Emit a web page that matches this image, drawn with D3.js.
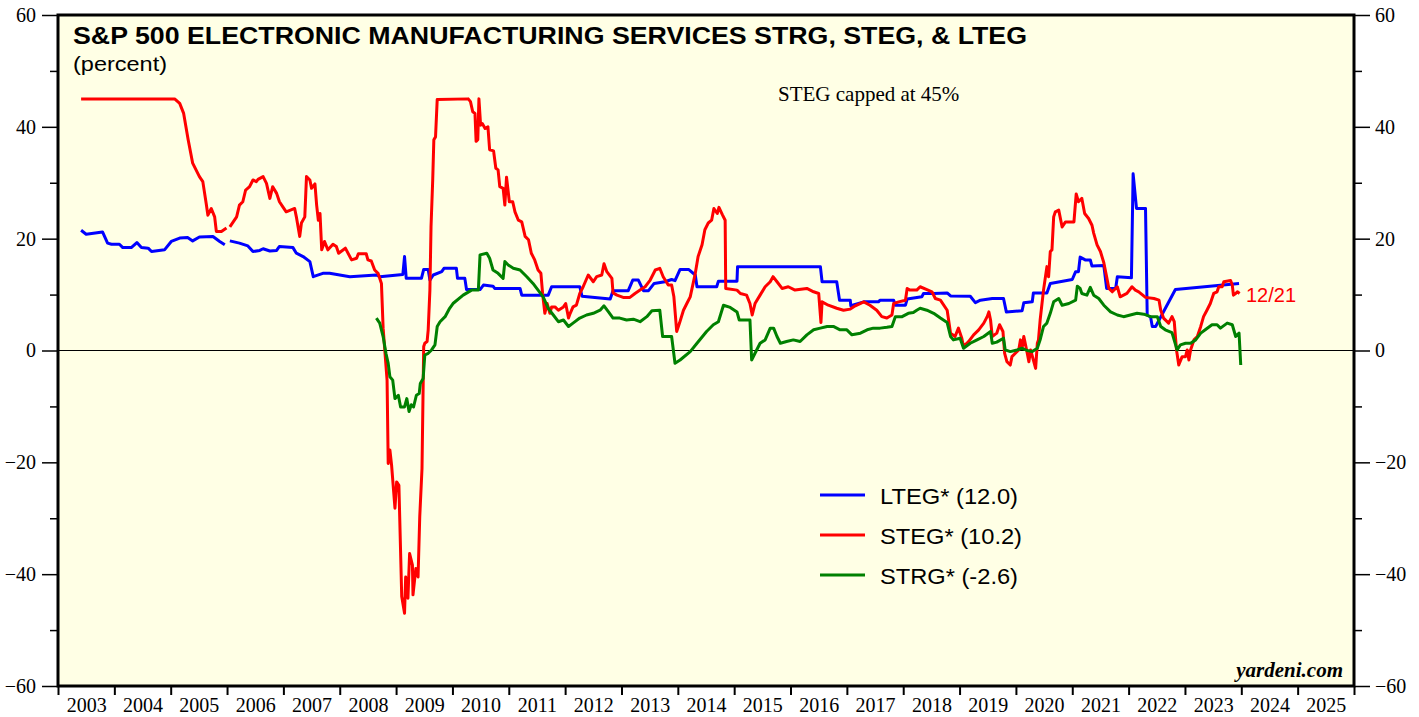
<!DOCTYPE html>
<html><head><meta charset="utf-8">
<script src="https://cdn.jsdelivr.net/npm/d3@7"></script>
<style>body{margin:0;background:#fff;overflow:hidden}</style>
</head><body><svg id="c" width="1419" height="717"></svg>
<script>
// ---- data ----
const yearLabels = d3.range(2003, 2026);
const yMajorTicks = [-60, -40, -20, 0, 20, 40, 60];
const yMinorTicks = [-50, -30, -10, 10, 30, 50];
const seriesNames = ["LTEG*", "STEG*", "STRG*"];
const seriesLast = ["12.0", "10.2", "-2.6"];
const seriesColors = ["#0000ff", "#ff0000", "#008000"];
const lastDate = "12/21";
const noteText = "STEG capped at 45%";

const lteg = [[2003.41,21.5],[2003.50,20.8],[2003.79,21.2],[2003.88,19.2],[2003.95,19.0],[2004.09,19.0],[2004.15,18.4],[2004.30,18.4],[2004.40,19.3],[2004.48,18.4],[2004.60,18.3],[2004.66,17.7],[2004.89,18.0],[2005.01,19.5],[2005.16,20.1],[2005.30,20.2],[2005.39,19.6],[2005.51,20.3],[2005.75,20.4],[2005.87,19.5],[2005.96,18.9],null,[2006.05,19.6],[2006.22,19.2],[2006.37,18.7],[2006.46,17.7],[2006.58,17.9],[2006.64,18.2],[2006.76,17.8],[2006.88,17.9],[2006.93,18.6],[2007.17,18.4],[2007.23,17.4],[2007.35,16.8],[2007.47,15.9],[2007.53,13.2],[2007.70,13.8],[2007.82,13.8],[2008.00,13.5],[2008.18,13.2],[2008.65,13.5],[2008.71,13.2],[2009.12,13.6],[2009.15,16.8],[2009.18,12.9],[2009.45,12.9],[2009.49,14.5],[2009.57,14.5],[2009.60,12.6],[2009.66,13.5],[2009.81,14.1],[2009.85,14.7],[2010.07,14.7],[2010.09,12.9],[2010.22,12.9],[2010.25,10.9],[2010.49,10.9],[2010.55,11.7],[2010.72,11.5],[2010.75,11.1],[2011.20,11.1],[2011.23,9.9],[2011.70,9.9],[2011.76,11.4],[2012.26,11.4],[2012.30,9.7],[2012.80,9.2],[2012.85,10.7],[2013.12,10.7],[2013.20,12.6],[2013.30,12.6],[2013.39,10.7],[2013.48,10.7],[2013.58,12.0],[2013.77,12.3],[2013.89,12.7],[2013.95,12.5],[2014.04,14.5],[2014.19,14.5],[2014.31,13.5],[2014.34,11.4],[2014.69,11.4],[2014.72,12.4],[2015.05,12.4],[2015.06,15.0],[2016.53,15.0],[2016.56,12.3],[2016.82,12.3],[2016.87,9.0],[2017.06,9.0],[2017.07,8.0],[2017.30,8.7],[2017.56,8.7],[2017.59,9.0],[2017.83,9.0],[2017.86,8.1],[2018.04,8.1],[2018.07,9.2],[2018.33,9.6],[2018.36,10.2],[2018.54,10.2],[2018.78,10.3],[2018.84,9.75],[2019.19,9.7],[2019.28,8.55],[2019.37,9.0],[2019.58,9.3],[2019.78,9.3],[2019.83,6.9],[2020.11,7.1],[2020.14,8.55],[2020.29,8.7],[2020.31,10.3],[2020.55,10.3],[2020.61,12.0],[2021.00,12.7],[2021.06,14.1],[2021.11,14.1],[2021.14,16.7],[2021.23,16.2],[2021.32,16.2],[2021.35,15.1],[2021.56,15.2],[2021.61,11.1],[2021.77,11.1],[2021.80,13.2],[2022.05,13.0],[2022.08,31.6],[2022.14,25.4],[2022.30,25.4],[2022.33,6.35],[2022.39,6.0],[2022.42,4.3],[2022.48,4.3],[2022.83,10.9],[2023.96,12.0]];

const steg = [[2003.41,45],[2005.07,45],[2005.16,44.2],[2005.23,42.4],[2005.31,37.7],[2005.39,33.5],[2005.51,31.1],[2005.57,30.2],[2005.63,26.3],[2005.66,24.2],[2005.72,25.4],[2005.78,23.9],[2005.81,21.3],[2005.90,21.3],[2005.99,21.9],null,[2006.05,22.1],[2006.11,23.0],[2006.17,23.9],[2006.22,26.0],[2006.28,26.6],[2006.33,28.7],[2006.40,29.3],[2006.46,30.5],[2006.52,30.2],[2006.55,30.6],[2006.64,31.1],[2006.70,29.9],[2006.76,27.2],[2006.81,29.3],[2006.88,28.1],[2006.93,26.6],[2006.99,25.7],[2007.05,24.8],[2007.20,25.4],[2007.23,23.9],[2007.29,20.4],[2007.32,22.8],[2007.38,23.9],[2007.41,31.1],[2007.47,30.5],[2007.50,29.0],[2007.56,29.8],[2007.59,26.0],[2007.62,23.3],[2007.65,24.5],[2007.68,18.0],[2007.73,19.5],[2007.79,18.0],[2007.88,19.0],[2007.94,18.6],[2007.98,17.4],[2008.10,18.3],[2008.21,16.2],[2008.30,16.5],[2008.33,17.3],[2008.47,17.3],[2008.50,16.2],[2008.56,16.0],[2008.62,14.4],[2008.68,13.8],[2008.74,12.0],[2008.77,4.0],[2008.84,-5.3],[2008.86,-20.2],[2008.89,-17.8],[2008.92,-20.5],[2008.98,-28.2],[2009.01,-23.5],[2009.05,-24.1],[2009.10,-44.0],[2009.15,-47.0],[2009.17,-40.5],[2009.21,-44.3],[2009.24,-36.3],[2009.29,-38.4],[2009.30,-43.7],[2009.35,-39.0],[2009.39,-40.5],[2009.42,-29.7],[2009.46,-21.1],[2009.49,0.7],[2009.51,1.3],[2009.55,1.6],[2009.57,3.7],[2009.60,10.8],[2009.62,22.1],[2009.65,30.5],[2009.67,37.7],[2009.70,38.2],[2009.73,44.9],[2010.28,45],[2010.32,44.5],[2010.36,42.7],[2010.40,42.4],[2010.42,37.4],[2010.45,37.7],[2010.47,45],[2010.50,40.3],[2010.53,40.6],[2010.58,39.7],[2010.63,40.0],[2010.66,35.9],[2010.73,35.7],[2010.77,32.6],[2010.81,32.3],[2010.84,29.3],[2010.90,29.0],[2010.93,26.0],[2010.96,31.0],[2011.01,26.6],[2011.07,26.6],[2011.11,24.8],[2011.17,23.3],[2011.23,23.0],[2011.29,20.4],[2011.35,19.8],[2011.40,17.4],[2011.46,16.2],[2011.52,14.4],[2011.57,13.8],[2011.60,10.2],[2011.64,6.65],[2011.68,8.4],[2011.73,6.65],[2011.76,7.8],[2011.82,7.8],[2011.88,7.2],[2011.97,7.8],[2012.01,8.4],[2012.06,5.8],[2012.09,6.65],[2012.14,7.8],[2012.20,8.1],[2012.26,10.2],[2012.32,11.4],[2012.41,13.5],[2012.50,12.3],[2012.56,13.2],[2012.65,13.5],[2012.69,15.5],[2012.74,14.1],[2012.83,12.9],[2012.85,10.3],[2012.92,9.9],[2013.03,9.5],[2013.15,9.5],[2013.24,10.2],[2013.33,10.8],[2013.42,11.4],[2013.51,12.6],[2013.60,14.4],[2013.68,14.7],[2013.74,13.2],[2013.83,11.7],[2013.89,11.7],[2013.93,9.6],[2013.98,3.4],[2014.03,4.9],[2014.10,7.2],[2014.16,8.4],[2014.22,9.6],[2014.31,13.8],[2014.36,16.8],[2014.43,18.9],[2014.48,21.6],[2014.54,22.8],[2014.60,23.3],[2014.64,25.4],[2014.70,24.5],[2014.73,25.6],[2014.79,24.3],[2014.84,23.3],[2014.85,11.1],[2015.05,10.8],[2015.11,10.2],[2015.22,9.9],[2015.28,8.4],[2015.32,6.35],[2015.37,8.4],[2015.46,9.9],[2015.55,11.4],[2015.64,12.3],[2015.69,13.2],[2015.76,12.3],[2015.85,11.1],[2015.96,11.4],[2016.08,10.8],[2016.29,11.1],[2016.41,10.5],[2016.50,10.2],[2016.54,5.0],[2016.56,8.7],[2016.67,8.1],[2016.82,7.55],[2016.94,7.2],[2017.06,7.4],[2017.15,8.0],[2017.30,8.7],[2017.41,8.1],[2017.53,7.2],[2017.62,6.05],[2017.71,5.8],[2017.80,6.35],[2017.83,8.4],[2017.92,8.7],[2018.04,9.0],[2018.07,11.1],[2018.12,10.8],[2018.24,10.8],[2018.30,11.4],[2018.42,10.9],[2018.51,10.5],[2018.57,9.3],[2018.66,9.0],[2018.78,7.2],[2018.84,3.1],[2018.92,2.5],[2018.98,4.0],[2019.04,2.2],[2019.07,0.7],[2019.16,1.6],[2019.25,2.8],[2019.34,3.7],[2019.43,4.9],[2019.49,6.05],[2019.52,6.9],[2019.55,5.45],[2019.58,2.5],[2019.66,3.1],[2019.71,4.6],[2019.77,3.4],[2019.80,-0.5],[2019.84,-2.0],[2019.90,-2.6],[2019.93,-1.1],[2019.99,-0.5],[2020.05,0.1],[2020.08,1.9],[2020.11,0.4],[2020.14,2.5],[2020.19,0.1],[2020.23,-2.0],[2020.26,0.1],[2020.31,-1.7],[2020.35,-3.2],[2020.38,1.3],[2020.40,1.9],[2020.43,5.45],[2020.49,10.8],[2020.55,15.0],[2020.58,13.2],[2020.61,17.7],[2020.64,18.0],[2020.67,23.9],[2020.70,24.8],[2020.76,25.1],[2020.82,22.1],[2020.88,23.0],[2021.03,23.0],[2021.07,28.0],[2021.11,26.6],[2021.17,27.2],[2021.22,24.5],[2021.29,23.6],[2021.35,22.4],[2021.38,21.0],[2021.44,18.9],[2021.50,17.7],[2021.56,15.7],[2021.61,13.2],[2021.65,11.1],[2021.71,10.5],[2021.80,11.4],[2021.85,9.6],[2021.97,10.2],[2022.06,11.4],[2022.12,10.8],[2022.18,10.5],[2022.30,9.5],[2022.45,9.3],[2022.54,9.0],[2022.57,7.2],[2022.62,5.8],[2022.71,4.9],[2022.77,6.05],[2022.81,5.15],[2022.85,0.1],[2022.89,-2.6],[2022.95,-1.1],[2023.01,-1.1],[2023.04,0.1],[2023.07,-1.7],[2023.10,0.1],[2023.16,1.9],[2023.22,2.5],[2023.28,4.3],[2023.33,6.05],[2023.39,7.2],[2023.45,8.4],[2023.51,10.2],[2023.57,10.5],[2023.60,11.4],[2023.66,11.4],[2023.69,12.3],[2023.81,12.5],[2023.84,11.7],[2023.86,9.9],[2023.90,10.2],[2023.93,10.5],[2023.97,10.2]];

const strg = [[2008.65,5.8],[2008.71,4.9],[2008.77,2.5],[2008.82,-0.5],[2008.86,-2.3],[2008.89,-4.7],[2008.94,-5.3],[2008.98,-8.6],[2009.04,-8.0],[2009.08,-10.1],[2009.15,-10.1],[2009.19,-8.6],[2009.23,-10.9],[2009.27,-9.7],[2009.31,-10.1],[2009.36,-8.0],[2009.41,-7.7],[2009.43,-5.9],[2009.48,-5.0],[2009.51,-0.8],[2009.57,-0.5],[2009.63,0.1],[2009.69,1.0],[2009.73,4.3],[2009.78,5.15],[2009.87,6.05],[2009.95,7.55],[2010.01,8.4],[2010.19,9.9],[2010.34,10.8],[2010.46,10.8],[2010.49,17.1],[2010.61,17.4],[2010.66,16.5],[2010.72,14.4],[2010.81,13.8],[2010.90,12.9],[2010.93,15.9],[2010.99,15.3],[2011.08,14.7],[2011.20,14.4],[2011.32,13.2],[2011.43,12.0],[2011.52,10.8],[2011.61,9.6],[2011.70,7.55],[2011.79,6.35],[2011.88,5.15],[2011.97,5.45],[2012.06,4.3],[2012.14,4.9],[2012.26,5.8],[2012.38,6.35],[2012.50,6.65],[2012.62,7.2],[2012.69,8.0],[2012.77,6.9],[2012.85,5.8],[2012.97,5.8],[2013.09,5.45],[2013.21,5.6],[2013.33,5.15],[2013.45,6.05],[2013.54,7.1],[2013.68,7.2],[2013.73,2.5],[2013.89,2.5],[2013.95,-2.3],[2014.04,-1.7],[2014.22,-0.2],[2014.34,1.3],[2014.51,3.4],[2014.63,4.6],[2014.72,5.15],[2014.81,8.1],[2014.93,7.7],[2015.05,6.9],[2015.09,5.45],[2015.28,5.45],[2015.31,-1.7],[2015.37,-0.5],[2015.46,1.3],[2015.55,1.9],[2015.64,4.0],[2015.70,4.0],[2015.76,2.5],[2015.82,1.3],[2015.93,1.6],[2016.05,1.9],[2016.17,1.6],[2016.29,2.8],[2016.41,3.7],[2016.53,4.0],[2016.65,4.3],[2016.76,4.3],[2016.88,3.7],[2017.00,3.7],[2017.09,2.8],[2017.24,3.1],[2017.36,3.7],[2017.47,4.0],[2017.59,4.0],[2017.71,4.15],[2017.80,4.3],[2017.86,6.05],[2017.98,6.05],[2018.09,6.65],[2018.18,6.8],[2018.24,7.2],[2018.30,7.55],[2018.42,7.2],[2018.54,6.65],[2018.66,5.8],[2018.78,5.0],[2018.84,2.5],[2018.89,1.9],[2019.01,2.2],[2019.07,0.4],[2019.19,1.3],[2019.31,1.9],[2019.43,2.5],[2019.55,3.4],[2019.58,1.3],[2019.66,1.5],[2019.78,2.2],[2019.81,0.1],[2019.90,-0.2],[2020.02,0.1],[2020.11,0.4],[2020.20,0.0],[2020.29,-0.2],[2020.38,0.4],[2020.43,1.9],[2020.49,4.3],[2020.55,4.9],[2020.61,6.65],[2020.67,8.7],[2020.76,9.3],[2020.82,8.1],[2020.94,8.4],[2021.06,9.0],[2021.09,11.5],[2021.14,11.1],[2021.17,10.2],[2021.26,9.9],[2021.32,11.3],[2021.38,9.9],[2021.47,9.3],[2021.56,8.1],[2021.68,6.9],[2021.80,6.35],[2021.91,6.05],[2022.03,6.35],[2022.15,6.65],[2022.27,6.5],[2022.39,6.05],[2022.51,6.05],[2022.57,4.3],[2022.65,3.7],[2022.77,3.2],[2022.86,0.1],[2022.92,1.0],[2023.01,1.3],[2023.10,1.3],[2023.19,1.9],[2023.28,3.1],[2023.36,3.7],[2023.48,4.6],[2023.57,4.6],[2023.63,4.0],[2023.75,4.9],[2023.84,4.6],[2023.90,2.5],[2023.96,3.1],[2023.99,-2.6]];

// ---- chart ----
const svg = d3.select("#c");
const L = 58, R = 1354, T = 15, B = 686;
const x = d3.scaleLinear().domain([2003, 2026]).range([L, R]);
const y = d3.scaleLinear().domain([-60, 60]).range([B, T]);
const serif = "'Liberation Serif','Times New Roman',serif";
const sans = "'Liberation Sans',Arial,sans-serif";

svg.append("rect").attr("x", L).attr("y", T).attr("width", R - L).attr("height", B - T)
  .attr("fill", "#ffffe5");

svg.append("line").attr("x1", L).attr("x2", R).attr("y1", y(0)).attr("y2", y(0))
  .attr("stroke", "#000").attr("stroke-width", 1);

const line = d3.line().defined(d => d !== null).x(d => x(d[0])).y(d => y(d[1]));
[lteg, steg, strg].forEach((s, i) => {
  svg.append("path").datum(s).attr("d", line).attr("fill", "none")
    .attr("stroke", seriesColors[i]).attr("stroke-width", 3)
    .attr("stroke-linejoin", "round");
});

// axes
function styleAxis(g, fs) {
  g.select(".domain").remove();
  g.selectAll("text").attr("font-family", serif).attr("font-size", fs).attr("fill", "#000");
}
const gl = svg.append("g").attr("transform", `translate(${L},0)`)
  .call(d3.axisLeft(y).tickValues(yMajorTicks).tickSize(16).tickPadding(6));
styleAxis(gl, 20); gl.selectAll("line").attr("stroke-width", 1.5);
const glm = svg.append("g").attr("transform", `translate(${L},0)`)
  .call(d3.axisLeft(y).tickValues(yMinorTicks).tickSize(8).tickFormat(""));
styleAxis(glm, 20); glm.selectAll("line").attr("stroke-width", 1.5);
const gr = svg.append("g").attr("transform", `translate(${R},0)`)
  .call(d3.axisRight(y).tickValues(yMajorTicks).tickSize(16).tickPadding(5));
styleAxis(gr, 20); gr.selectAll("line").attr("stroke-width", 1.5);
const grm = svg.append("g").attr("transform", `translate(${R},0)`)
  .call(d3.axisRight(y).tickValues(yMinorTicks).tickSize(8).tickFormat(""));
styleAxis(grm, 20); grm.selectAll("line").attr("stroke-width", 1.5);

const gb = svg.append("g").attr("transform", `translate(0,${B})`)
  .call(d3.axisBottom(x).tickValues(d3.range(2003, 2027)).tickSize(9).tickFormat(""));
styleAxis(gb, 20); gb.selectAll("line").attr("stroke-width", 2);
const gbl = svg.append("g").attr("transform", `translate(0,${B})`)
  .call(d3.axisBottom(x).tickValues(yearLabels.map(v => v + 0.5)).tickSize(0).tickPadding(12)
    .tickFormat(d => String(Math.floor(d))));
styleAxis(gbl, 20);

// border
svg.append("rect").attr("x", L).attr("y", T).attr("width", R - L).attr("height", B - T)
  .attr("fill", "none").attr("stroke", "#000").attr("stroke-width", 3);

// texts
svg.append("text").attr("x", 73).attr("y", 44).attr("font-family", sans).attr("font-weight", "bold")
  .attr("font-size", 24).attr("textLength", 954).attr("lengthAdjust", "spacingAndGlyphs")
  .text("S&P 500 ELECTRONIC MANUFACTURING SERVICES STRG, STEG, & LTEG");
svg.append("text").attr("x", 73).attr("y", 71).attr("font-family", sans).attr("font-size", 20)
  .attr("textLength", 94).attr("lengthAdjust", "spacingAndGlyphs").text("(percent)");
svg.append("text").attr("x", 778).attr("y", 101).attr("font-family", serif).attr("font-size", 21)
  .text(noteText);
svg.append("text").attr("x", 1343).attr("y", 677).attr("text-anchor", "end").attr("font-family", serif)
  .attr("font-weight", "bold").attr("font-style", "italic").attr("font-size", 21).text("yardeni.com");
svg.append("text").attr("x", 1246).attr("y", 302).attr("font-family", sans).attr("font-size", 20)
  .attr("fill", "#ff0000").text(lastDate);

// legend
const legendLen = [138, 142, 138];
const lg = svg.append("g");
seriesNames.forEach((n, i) => {
  const yy = 495 + i * 40;
  lg.append("line").attr("x1", 820).attr("x2", 865).attr("y1", yy).attr("y2", yy)
    .attr("stroke", seriesColors[i]).attr("stroke-width", 3);
  lg.append("text").attr("x", 880).attr("y", yy + 9).attr("font-family", sans).attr("font-size", 22)
    .attr("textLength", legendLen[i]).attr("lengthAdjust", "spacingAndGlyphs")
    .text(`${n} (${seriesLast[i]})`);
});
</script></body></html>
